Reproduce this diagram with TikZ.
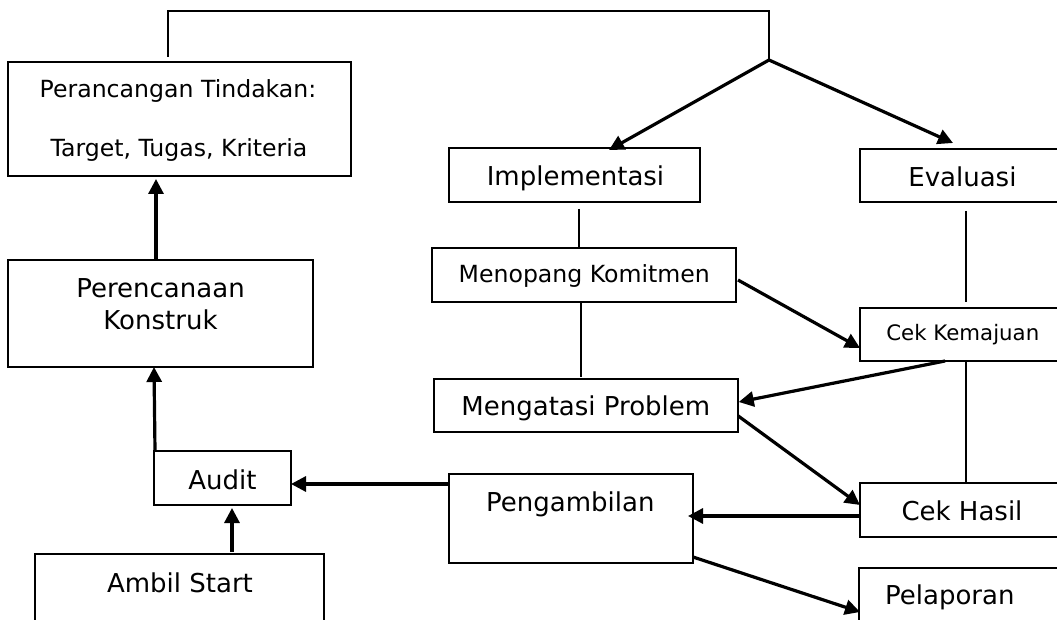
\documentclass[tikz,border=0pt]{standalone}
\usepackage{fontspec}
\setmainfont{DejaVu Sans}
\usetikzlibrary{arrows.meta}
\begin{document}
\begin{tikzpicture}[x=1pt,y=-1pt,
  box/.style={draw,rectangle,line width=2pt,inner sep=0pt,outer sep=0pt},
  lbl/.style={anchor=base,inner sep=0pt,outer sep=0pt},
  big/.style={font=\fontsize{26}{31}\selectfont},
  mid/.style={font=\fontsize{23.6}{28}\selectfont},
  small/.style={font=\fontsize{21.3}{25}\selectfont},
  link/.style={line width=2pt},
  arr/.style={line width=3.2pt,-{Triangle[length=15pt,width=15pt]}}]
\useasboundingbox (0,0) rectangle (1057,620);
\clip (0,0) rectangle (1057,620);

% boxes
\node[box,minimum width=343pt,minimum height=114pt] (perancangan) at (179.5,119) {};
\node[box,minimum width=305pt,minimum height=107pt] (perencanaan) at (160.5,313.5) {};
\node[box,minimum width=137pt,minimum height=54pt]  (audit)       at (222.5,478) {};
\node[box,minimum width=289pt,minimum height=106pt] (ambil)       at (179.5,607) {};
\node[box,minimum width=251pt,minimum height=54pt]  (impl)        at (574.5,175) {};
\node[box,minimum width=210pt,minimum height=53pt]  (evalu)       at (965,175.5) {};
\node[box,minimum width=304pt,minimum height=54pt]  (menopang)    at (584,275) {};
\node[box,minimum width=304.5pt,minimum height=53pt] (mengatasi)  at (586,405.5) {};
\node[box,minimum width=210pt,minimum height=53pt]  (cekkem)      at (965,334.5) {};
\node[box,minimum width=210pt,minimum height=54pt]  (cekhasil)    at (965,510) {};
\node[box,minimum width=244pt,minimum height=89pt]  (pengambilan) at (571,518.5) {};
\node[box,minimum width=211pt,minimum height=112pt] (pelaporan)   at (964.5,624) {};

% labels
\node[lbl,mid] (t1)  at (178,97.3)   {Perancangan Tindakan:};
\node[lbl,mid] (t2)  at (179,156.7)  {Target, Tugas, Kriteria};
\node[lbl,big] (t3)  at (160.5,297.7) {Perencanaan};
\node[lbl,big] (t4)  at (160.5,329.3) {Konstruk};
\node[lbl,big] (t5)  at (222.5,489)  {Audit};
\node[lbl,big] (t6)  at (180,592.7)  {Ambil Start};
\node[lbl,big] (t7)  at (575.5,186)  {Implementasi};
\node[lbl,big] (t8)  at (962.4,186.7) {Evaluasi};
\node[lbl,mid] (t9)  at (584.3,282.7) {Menopang Komitmen};
\node[lbl,big] (t10) at (585.8,415.7) {Mengatasi Problem};
\node[lbl,small] (t11) at (962.8,340.7) {Cek Kemajuan};
\node[lbl,big] (t12) at (962,520.7)  {Cek Hasil};
\node[lbl,big] (t13) at (570.3,511)  {Pengambilan};
\node[lbl,big] (t14) at (949.8,604)  {Pelaporan};

% top bracket and split
\coordinate (top)   at (769,11);
\coordinate (split) at (769,60);
\draw[link] ([xshift=-11.5pt,yshift=5pt]perancangan.north) |- (top) -- (split);
\draw[arr] (split) -- ([xshift=34.5pt,yshift=-2pt]impl.north);
\draw[arr] (split) -- ([xshift=-12pt,yshift=6pt]evalu.north);

% plain links
\draw[link] ([xshift=4.5pt,yshift=-7pt]impl.south) -- ([xshift=-5pt]menopang.north);
\draw[link] ([xshift=-3pt]menopang.south) -- ([xshift=-5pt,yshift=2pt]mengatasi.north);
\draw[link] ([xshift=1pt,yshift=-9pt]evalu.south) -- ([xshift=1pt,yshift=6pt]cekkem.north);
\draw[link] ([xshift=1pt]cekkem.south) -- ([xshift=1pt]cekhasil.north);

% arrows on the right
\draw[arr] ([xshift=2pt,yshift=-5pt]menopang.east) -- ([yshift=-13.5pt]cekkem.west);
\draw[arr] ([xshift=-20pt]cekkem.south) -- ([xshift=0.5pt,yshift=3.5pt]mengatasi.east);
\draw[arr] ([yshift=-10.5pt]mengatasi.east) -- ([yshift=5pt]cekhasil.west);
\draw[arr] ([yshift=-6pt]cekhasil.west) -- ([xshift=-5pt,yshift=2.5pt]pengambilan.east);
\draw[arr] ([yshift=6pt]pengambilan.south east) -- ([xshift=1pt,yshift=12pt]pelaporan.west);

% arrows on the left
\draw[arr] ([yshift=-10pt]pengambilan.north west) -- ([yshift=-6pt]audit.east);
\draw[arr] ([xshift=52.5pt,yshift=2pt]ambil.north) -- ([xshift=9.5pt,yshift=-3pt]audit.south);
\draw[arr] ([xshift=1pt]audit.north west) -- ([xshift=-6.5pt]perencanaan.south);
\draw[arr] ([xshift=-4.5pt]perencanaan.north) -- ([xshift=-23.5pt,yshift=-3pt]perancangan.south);
\end{tikzpicture}
\end{document}
